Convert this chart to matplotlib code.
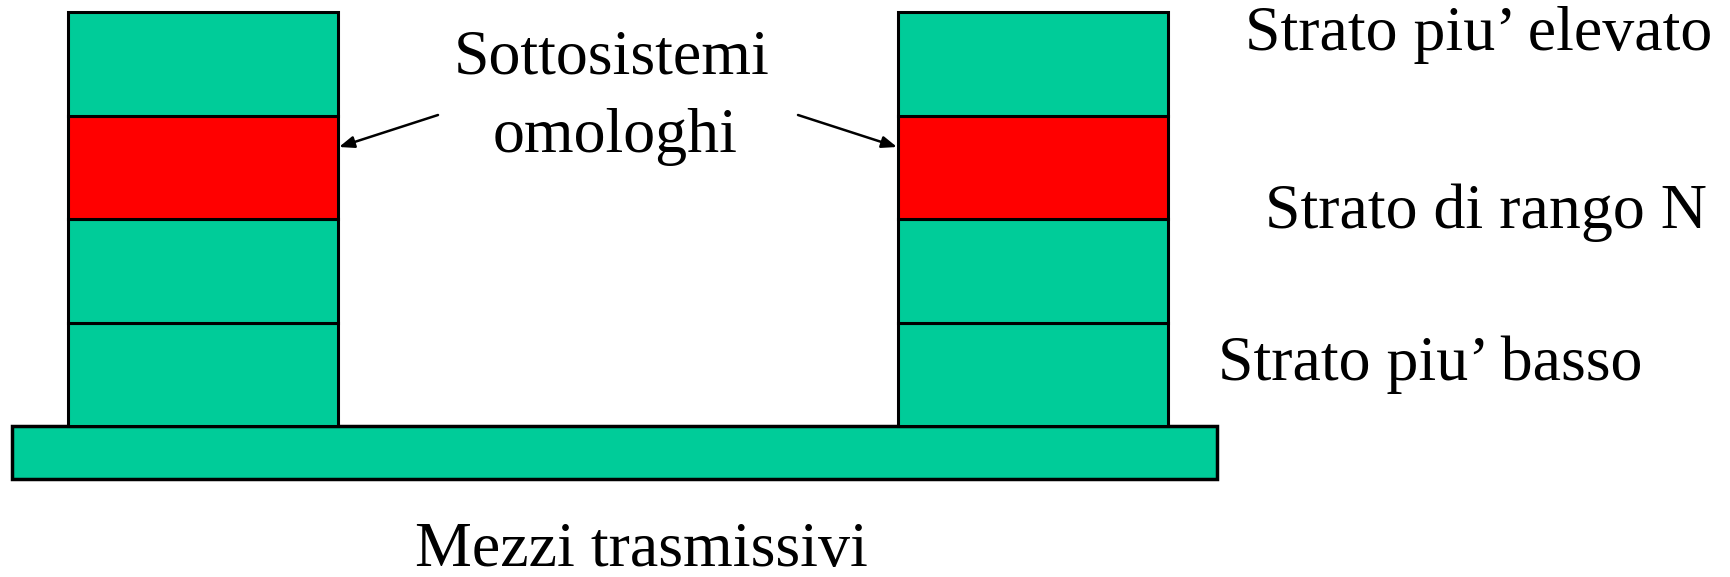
"""Diagram of homologous subsystems in a layered architecture."""
import matplotlib
matplotlib.use("Agg")
from matplotlib import pyplot as plt

plt.rcParams["font.family"] = ["Liberation Serif", "DejaVu Serif"]

# layers from bottom to top of each stack
layers = ["Strato piu' basso", "Strato intermedio", "Strato di rango N", "Strato piu' elevato"]
layer_colors = ["#00CC99", "#00CC99", "#FF0000", "#00CC99"]
systems = ["Sistema A", "Sistema B"]
side_labels = ["Strato piu\u2019 elevato", "Strato di rango N", "Strato piu\u2019 basso"]
base_label = "Mezzi trasmissivi"
note_label = ["Sottosistemi", "omologhi"]

W, H = 1731, 577
fig = plt.figure(figsize=(W / 100, H / 100), dpi=100)
ax = fig.add_axes([0, 0, 1, 1])
ax.set_xlim(0, W)
ax.set_ylim(H, 0)
ax.axis("off")

stack_left = [68, 898]
stack_w = 270
layer_h = 103.5
stack_bottom = 426

# transmission medium
ax.bar(12, 53, width=1205, bottom=stack_bottom, align="edge",
       color="#00CC99", edgecolor="black", linewidth=2.5)

for x0 in stack_left:
    for i, (name, col) in enumerate(zip(layers, layer_colors)):
        ax.bar(x0, -layer_h, width=stack_w, bottom=stack_bottom - i * layer_h,
               align="edge", color=col, edgecolor="black", linewidth=2.2)

fs = 46
ax.text(1245, 50, side_labels[0], fontsize=fs, va="baseline", ha="left")
ax.text(1265, 228, side_labels[1], fontsize=fs, va="baseline", ha="left")
ax.text(1218, 380, side_labels[2], fontsize=fs, va="baseline", ha="left")
ax.text(415, 566, base_label, fontsize=fs, va="baseline", ha="left")
ax.text(612, 73, note_label[0], fontsize=fs, va="baseline", ha="center")
ax.text(615, 152, note_label[1], fontsize=fs, va="baseline", ha="center")

arrow = dict(arrowstyle="-|>,head_length=0.9,head_width=0.35", color="black",
             lw=1.8, shrinkA=0, shrinkB=0)
ax.annotate("", xy=(339, 147), xytext=(438, 115), arrowprops=arrow)
ax.annotate("", xy=(897, 147), xytext=(798, 115), arrowprops=arrow)

fig.savefig("out.png", dpi=100, facecolor="white")
